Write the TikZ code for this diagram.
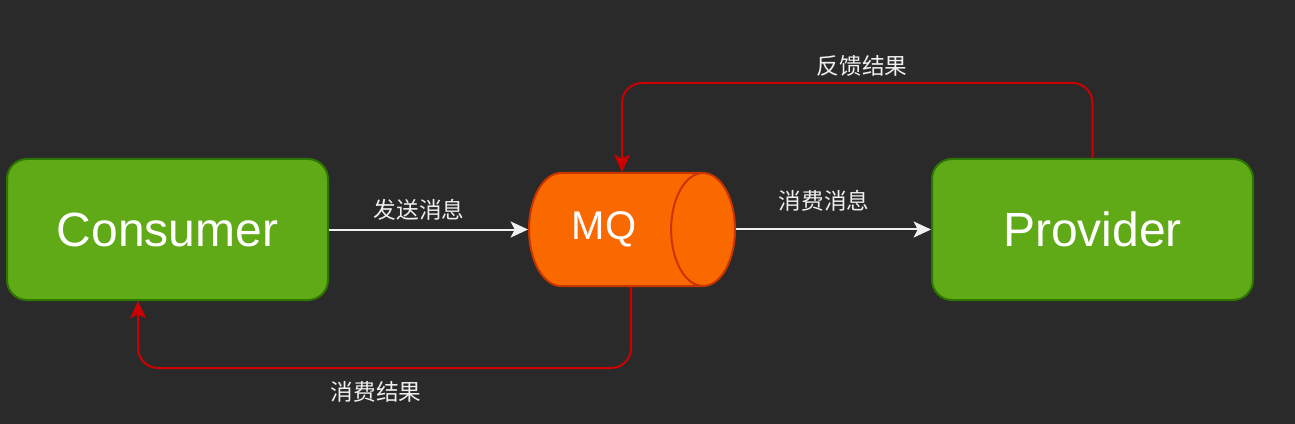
\documentclass[tikz,border=0pt]{standalone}
\usepackage{fontspec}
\setmainfont{Liberation Sans}
\newfontfamily\cjk{Noto Sans CJK SC}
\usepackage{tikz}
\usetikzlibrary{shapes.geometric,arrows.meta,calc,positioning}

\definecolor{bgdark}{HTML}{2A2A2A}
\definecolor{boxgreen}{HTML}{60A917}
\definecolor{boxgreenline}{HTML}{2D7600}
\definecolor{mqorange}{HTML}{FA6800}
\definecolor{mqorangeline}{HTML}{C73500}
\definecolor{backred}{HTML}{CC0000}
\definecolor{linewhite}{HTML}{F0F0F0}

\begin{document}
\begin{tikzpicture}[
  x=0.75pt, y=-0.75pt,
  node distance=149.25pt and 149.25pt,
  every node/.style={text=white},
  app/.style={draw=boxgreenline, fill=boxgreen, line width=1.5pt,
    rounded corners=15pt, minimum width=240.75pt, minimum height=105.75pt,
    inner sep=0pt, font=\fontsize{36}{40}\selectfont},
  queue/.style={cylinder, draw=mqorangeline, fill=mqorange, line width=1.5pt,
    shape aspect=1.8, minimum height=154.5pt, minimum width=84.75pt,
    inner sep=0pt, font=\fontsize{30}{34}\selectfont},
  edge/.style={-{Stealth[length=13pt,width=12pt,inset=3pt]}, line width=1.5pt, draw=linewhite},
  back/.style={-{Stealth[length=13pt,width=12pt,inset=3pt]}, line width=1.5pt, draw=backred,
    rounded corners=15pt},
  lbl/.style={text=linewhite, font=\cjk\fontsize{17}{20}\selectfont}
]

% ---- canvas ----
\fill[bgdark] (0,0) rectangle (1295,424);
\useasboundingbox (0,0) rectangle (1295,424);

% ---- main chain ----
\node[app] (C) at (167.5,229.5) {Consumer};
\node[queue] (MQ) [right=of C] {MQ\kern17pt};
\node[app] (P) [right=146.25pt of MQ] {Provider};

% ---- edges: forward ----
\draw[edge] (C) -- (MQ);
\draw[edge] (MQ) -- (P);

% ---- edges: results ----
\draw[back] (P.north) -- ++(0,-75) -| ($(MQ.north)+(6.5,0)$);
\draw[back] ($(MQ.south)+(15.5,0)$) -- ++(0,81) -| ($(C.south)+(-29.5,0)$);

% ---- labels ----
\node[lbl] (L1) at ($(C.east)!0.5!(MQ.west) + (-9.5,-20)$) {发送消息};
\node[lbl] (L2) at ($(MQ.east)!0.5!(P.west) + (-9.5,-29)$) {消费消息};
\node[lbl] (L3) at ($(P.north) + (-230.5,-92)$) {反馈结果};
\node[lbl] (L4) at ($(C.south) + (208.5,91)$) {消费结果};

\end{tikzpicture}
\end{document}
